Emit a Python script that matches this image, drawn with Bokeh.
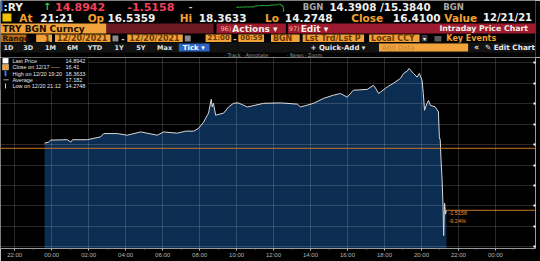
import pandas as pd
from bokeh.plotting import figure
from bokeh.layouts import column
from bokeh.models import (Range1d, FixedTicker, DatetimeTickFormatter, BoxAnnotation,
                          Span, SingleIntervalTicker, CustomJSTickFormatter)
from bokeh.core.properties import value
from bokeh.embed import file_html
from bokeh.resources import INLINE

# ---------------- data ----------------
security = "TRY BGN Curncy"
times = [
    "2021-12-19 23:37", "2021-12-19 23:50", "2021-12-19 23:57",
    "2021-12-20 00:51", "2021-12-20 01:02", "2021-12-20 01:08", "2021-12-20 01:56",
    "2021-12-20 02:39", "2021-12-20 02:49", "2021-12-20 03:33", "2021-12-20 04:05",
    "2021-12-20 04:49", "2021-12-20 05:43", "2021-12-20 06:03", "2021-12-20 06:48",
    "2021-12-20 07:15", "2021-12-20 07:41", "2021-12-20 07:57", "2021-12-20 08:13",
    "2021-12-20 08:29", "2021-12-20 08:38", "2021-12-20 08:41", "2021-12-20 08:45",
    "2021-12-20 08:52", "2021-12-20 09:18", "2021-12-20 09:34", "2021-12-20 09:50",
    "2021-12-20 10:06", "2021-12-20 10:35", "2021-12-20 11:28", "2021-12-20 12:23",
    "2021-12-20 13:17", "2021-12-20 13:28", "2021-12-20 14:10", "2021-12-20 14:42",
    "2021-12-20 15:15", "2021-12-20 15:37", "2021-12-20 15:59", "2021-12-20 16:19",
    "2021-12-20 17:04", "2021-12-20 17:24", "2021-12-20 17:31", "2021-12-20 17:41",
    "2021-12-20 18:09", "2021-12-20 18:29", "2021-12-20 18:52", "2021-12-20 19:02",
    "2021-12-20 19:14", "2021-12-20 19:20", "2021-12-20 19:34", "2021-12-20 19:46",
    "2021-12-20 19:53", "2021-12-20 20:02", "2021-12-20 20:06", "2021-12-20 20:10",
    "2021-12-20 20:18", "2021-12-20 20:23", "2021-12-20 20:29", "2021-12-20 20:45",
    "2021-12-20 20:55", "2021-12-20 20:58", "2021-12-20 21:01", "2021-12-20 21:03",
    "2021-12-20 21:07", "2021-12-20 21:10", "2021-12-20 21:12", "2021-12-20 21:15",
    "2021-12-20 21:18", "2021-12-20 21:21",
]
prices = [
    16.5359, 16.56, 16.61,
    16.62, 16.56, 16.62, 16.62,
    16.69, 16.77, 16.77, 16.73,
    16.81, 16.73, 16.81, 16.78,
    16.83, 16.83, 16.90, 17.05,
    17.27, 17.61, 17.42, 17.51,
    17.22, 17.27, 17.42, 17.51,
    17.52, 17.42, 17.51, 17.52,
    17.49, 17.42, 17.51, 17.63,
    17.71, 17.75, 17.66, 17.83,
    17.85, 17.95, 17.88, 17.75,
    17.91, 18.00, 18.12, 18.24,
    18.30, 18.3633, 18.24, 18.15,
    18.24, 18.07, 17.75, 17.34,
    17.51, 17.58, 17.46, 17.42,
    17.30, 16.69, 16.61, 16.20,
    15.63, 14.98, 14.2748, 15.07,
    14.80, 14.8942,
]
prev_close = 16.41
prev_close_date = "12/17"
last_price = 14.8942
last_time_label = "21:21"
open_price = 16.5359
high_price = 18.3633
high_when = "12/20 19:20"
low_price = 14.2748
low_when = "12/20 21:12"
average_price = 17.182
bid_price = 14.3908
ask_price = 15.3840
close_value = 16.4100
value_date = "12/21/21"
range_from = "12/20/2021"
range_to = "12/20/2021"
x_tick_times = [
    "2021-12-19 22:00", "2021-12-20 00:00", "2021-12-20 02:00", "2021-12-20 04:00",
    "2021-12-20 06:00", "2021-12-20 08:00", "2021-12-20 10:00", "2021-12-20 12:00",
    "2021-12-20 14:00", "2021-12-20 16:00", "2021-12-20 18:00", "2021-12-20 20:00",
    "2021-12-20 22:00", "2021-12-21 00:00",
]
view_start = "2021-12-19 21:14"
view_end = "2021-12-21 02:10"
y_low, y_high = 13.96, 18.63

change = last_price - prev_close
pct = change / prev_close * 100


def ms(s):
    return pd.Timestamp(s).value / 1e6


t = [ms(s) for s in times]
x0, x1 = ms(view_start), ms(view_end)
major_ms = [ms(s) for s in x_tick_times]
minor_ms = [ts.value / 1e6 for ts in pd.date_range("2021-12-19 21:00", "2021-12-21 02:00", freq="1h")]

RED = "#f2405a"
ORG = "#f2a132"
WHITE = "#f0f0f0"
GREY = "#a8a8a8"

# ---------------- header ----------------
h = figure(width=540, height=57, x_range=Range1d(0, 540), y_range=Range1d(57, 0),
           toolbar_location=None, output_backend="svg", min_border=0,
           x_axis_location=None, y_axis_location=None,
           background_fill_color="black", border_fill_color="black", outline_line_color=None)
h.grid.visible = False


def T(x, y, s, color, size=10.5, bold=True, font="DejaVu Sans", align="left"):
    h.text(x=[x], y=[y], text=[s], text_color=color, text_font=value(font),
           text_font_size=f"{size}px", text_font_style="bold" if bold else "normal",
           text_baseline="middle", text_align=align)


def B(l, r, tp, b, color):
    h.quad(left=[l], right=[r], top=[tp], bottom=[b], fill_color=color, line_color=None)


# row 1
B(0, 2, 0, 11, "#2b6fd8")
T(3, 6, ":RY", WHITE, 10.5)
T(43, 6, "↑", "#3ccf3c", 10)
T(55, 6, f"{last_price:.4f}", RED, 11)
T(128, 6, f"{change:.4f}", RED, 11)
T(190, 6, "-", "#d0d0d0", 9)
# sparkline through extra ranges
upp = (high_price - low_price) / 7.5
h.extra_y_ranges = {"spark_y": Range1d(high_price - (57 - 3.5) * upp, high_price + 3.5 * upp)}
span_t = (t[-1] - t[0]) / 48.0
sx0 = t[0] - 238 * span_t
h.extra_x_ranges = {"spark_x": Range1d(sx0, sx0 + 540 * span_t)}
h.line(x=t, y=prices, x_range_name="spark_x", y_range_name="spark_y",
       line_color="#2fb83a", line_width=1)
T(305, 6, "BGN", GREY, 8.5)
T(332, 6, f"{bid_price:.4f}", WHITE, 10.3)
T(383, 6, f"/{ask_price:.4f}", WHITE, 10.3)
T(447, 6, "BGN", GREY, 8.5)

# row 2
B(2, 11, 13, 21, "#f2c200")
T(19, 17, "At", ORG)
T(40, 17, last_time_label, WHITE)
T(88, 17, "Op", ORG)
T(108, 17, f"{open_price:.4f}", WHITE)
T(181, 17, "Hi", ORG)
T(200, 17, f"{high_price:.4f}", WHITE)
T(267, 17, "Lo", ORG)
T(287, 17, f"{low_price:.4f}", WHITE)
T(354, 17, "Close", ORG)
T(396, 17, f"{close_value:.4f}", WHITE)
T(448, 17, "Value", ORG)
T(487, 17, value_date, WHITE, 10)

# row 3
B(0, 107, 23, 33, "#f3a33c")
B(107, 215, 23, 33, "#6c1a22")
B(218, 288, 23, 33, "#9e1b2f")
B(290, 540, 23, 33, "#9e1b2f")
T(2, 28, security, "#1a0d00", 9)
T(222, 28, "96)", "#e8b8a0", 6.5, bold=False)
T(234, 28, "Actions ▾", "#f4f0e8", 9)
T(291, 28, "97)", "#e8b8a0", 6.5, bold=False)
T(303, 28, "Edit ▾", "#f4f0e8", 9)
T(443, 28, "Intraday Price Chart", "#f4f0e8", 7.8)

# row 4
BOX = "#f0a13a"
BTX = "#6a3800"
ry = 37.8
B(0, 26, 34, 41.5, "#b06a1a")
T(2, ry, "Range", "#2a1400", 7.5)
B(36, 52, 34, 41.5, BOX); T(50, ry, "1", BTX, 8, align="right")
B(55, 111, 34, 41.5, BOX); T(57, ry, range_from, BTX, 8)
B(113, 119, 35, 41, "#8a8a8a")
T(122, ry, "-", "#d0d0d0", 8)
B(128, 184, 34, 41.5, BOX); T(130, ry, range_to, BTX, 8)
B(186, 192, 35, 41, "#8a8a8a")
B(207, 233, 34, 41.5, BOX); T(209, ry, "21:00", BTX, 7)
T(235, ry, "-", "#d0d0d0", 8)
B(240, 266, 34, 41.5, BOX); T(242, ry, "00:59", BTX, 7)
B(273, 302, 34, 41.5, BOX); T(275, ry, "BGN", BTX, 8)
B(305, 367, 34, 41.5, BOX); T(307, ry, "Lst Trd/Lst P", BTX, 8)
B(372, 423, 34, 41.5, BOX); T(374, ry, "Local CCY", BTX, 8)
B(425, 431, 34.5, 41, "#3a3a3a"); T(428, ry, "▾", WHITE, 6, align="center")
B(438, 445, 35.5, 41, "#5a5a5a")
T(450, ry, "Key Events", ORG, 8)

# row 5
B(0, 540, 42, 52, "#121212")
for xx, lab in [(3, "1D"), (23, "3D"), (45, "1M"), (67, "6M"), (88, "YTD"),
                (115, "1Y"), (137, "5Y"), (158, "Max")]:
    T(xx, 47, lab, "#e0e0e0", 6.5)
B(180, 211, 43, 51, "#2b62c4")
T(184, 47, "Tick ▾", "#ffffff", 7)
T(313, 47, "+ Quick-Add ▾", "#e8e8e8", 7)
B(382, 472, 43, 51, "#f2a33a")
T(385, 47, "Add Data", "#c8823a", 7, bold=False)
T(478, 47, "«", "#e0e0e0", 8)
T(489, 47, "✎ Edit Chart", "#e8e8e8", 7.3)

# row 6
for xx, lab in [(226, "· Track"), (244, "· Annotate"), (289, "· News"), (307, "· Zoom")]:
    T(xx, 54.5, lab, "#9a9a9a", 5, bold=False)

# ---------------- chart ----------------
p = figure(width=540, height=204, x_axis_type="datetime",
           x_range=Range1d(x0, x1), y_range=Range1d(y_low, y_high),
           y_axis_location="right", toolbar_location=None, output_backend="svg",
           min_border_left=0, min_border_right=5, min_border_top=0, min_border_bottom=13,
           background_fill_color="black", border_fill_color="black", outline_line_color=None)

p.xgrid.ticker = FixedTicker(ticks=major_ms)
p.ygrid.ticker = SingleIntervalTicker(interval=0.5)
p.grid.grid_line_color = "white"
p.grid.grid_line_alpha = 0.16
p.grid.level = "guide"

p.varea(x=t, y1=y_low, y2=prices, fill_color="#0c2d52")
p.line(x=t, y=prices, line_color="#d8d8d8", line_width=1)

p.add_layout(Span(location=prev_close, dimension="width", line_color="#c8782c", line_width=1))
p.segment(x0=[t[-1]], y0=[last_price], x1=[x1], y1=[last_price], line_color="#c8782c", line_width=1)
p.text(x=[t[-1]], y=[last_price], text=[f"{change:.4f}"], x_offset=2, y_offset=1,
       text_baseline="top", text_color="#e0902a", text_font=value("Liberation Sans"),
       text_font_size="5.5px")
p.text(x=[t[-1]], y=[last_price], text=[f"{pct:.2f}%"], x_offset=2, y_offset=8,
       text_baseline="top", text_color="#e0902a", text_font=value("Liberation Sans"),
       text_font_size="5.5px")


# legend (positioned relative to the frame)
def XP(px):
    return x0 + px * (x1 - x0) / 535.0


def YP(py):
    return y_high - py * (y_high - y_low) / 191.0


p.add_layout(BoxAnnotation(left=x0, right=XP(88), top=y_high, bottom=YP(32),
                           fill_color="black", fill_alpha=0.92, line_color=None))
legend_rows = [
    ("Last Price", f"{last_price:.4f}"),
    (f"Close on {prev_close_date} -----", f"{prev_close:.2f}"),
    (f"High on {high_when}", f"{high_price:.4f}"),
    ("Average", f"{average_price:.3f}"),
    (f"Low on {low_when}", f"{low_price:.4f}"),
]
row_y = [3.2, 9.6, 16.0, 22.3, 28.6]
LV = "overlay"
for (lab, val), ry_ in zip(legend_rows, row_y):
    p.text(x=[XP(12)], y=[YP(ry_)], text=[lab], text_baseline="middle", text_color="#e6e6e6",
           text_font=value("Liberation Sans"), text_font_size="5.5px", level=LV)
    p.text(x=[XP(65)], y=[YP(ry_)], text=[val], text_baseline="middle", text_color="#e6e6e6",
           text_font=value("Liberation Sans"), text_font_size="5.5px", level=LV)
p.quad(left=[XP(2)], right=[XP(8)], top=[YP(0.6)], bottom=[YP(6)], fill_color="white",
       line_color=None, level=LV)
p.quad(left=[XP(2)], right=[XP(8)], top=[YP(7)], bottom=[YP(12.4)], fill_color="#f0a030",
       line_color="#dddddd", line_width=0.5, level=LV)
p.segment(x0=[XP(5)], y0=[YP(13.2)], x1=[XP(5)], y1=[YP(18.8)], line_color="#3a7ad0",
          line_width=2, level=LV)
p.segment(x0=[XP(3)], y0=[YP(22.3)], x1=[XP(8)], y1=[YP(22.3)], line_color="#aaaaaa",
          line_width=1, level=LV)
p.segment(x0=[XP(5)], y0=[YP(26)], x1=[XP(5)], y1=[YP(31)], line_color="#cccccc",
          line_width=1, level=LV)

# axes
p.xaxis.ticker = FixedTicker(ticks=major_ms, minor_ticks=minor_ms)
p.xaxis.formatter = DatetimeTickFormatter(hours="%H:%M", hourmin="%H:%M", minutes="%H:%M",
                                          minsec="%H:%M", days="%H:%M", months="%H:%M",
                                          years="%H:%M")
p.xaxis.major_label_text_font = "Liberation Sans"
p.xaxis.major_label_text_font_size = "6px"
p.xaxis.major_label_text_color = "#b5b5b5"
p.xaxis.major_label_standoff = 1
p.xaxis.axis_line_color = "#9a9a9a"
p.xaxis.major_tick_line_color = "#dddddd"
p.xaxis.minor_tick_line_color = "#888888"
p.xaxis.major_tick_in = 0
p.xaxis.major_tick_out = 2
p.xaxis.minor_tick_in = 0
p.xaxis.minor_tick_out = 1

p.yaxis.ticker = SingleIntervalTicker(interval=0.5)
p.yaxis.formatter = CustomJSTickFormatter(code="return '';")
p.yaxis.major_label_standoff = 0
p.yaxis.axis_line_color = "#9a9a9a"
p.yaxis.major_tick_line_color = "white"
p.yaxis.major_tick_line_width = 2
p.yaxis.major_tick_in = 2
p.yaxis.major_tick_out = 0
p.yaxis.minor_tick_line_color = None

layout = column(h, p, spacing=0)
open("out.html", "w").write(file_html(layout, INLINE))
